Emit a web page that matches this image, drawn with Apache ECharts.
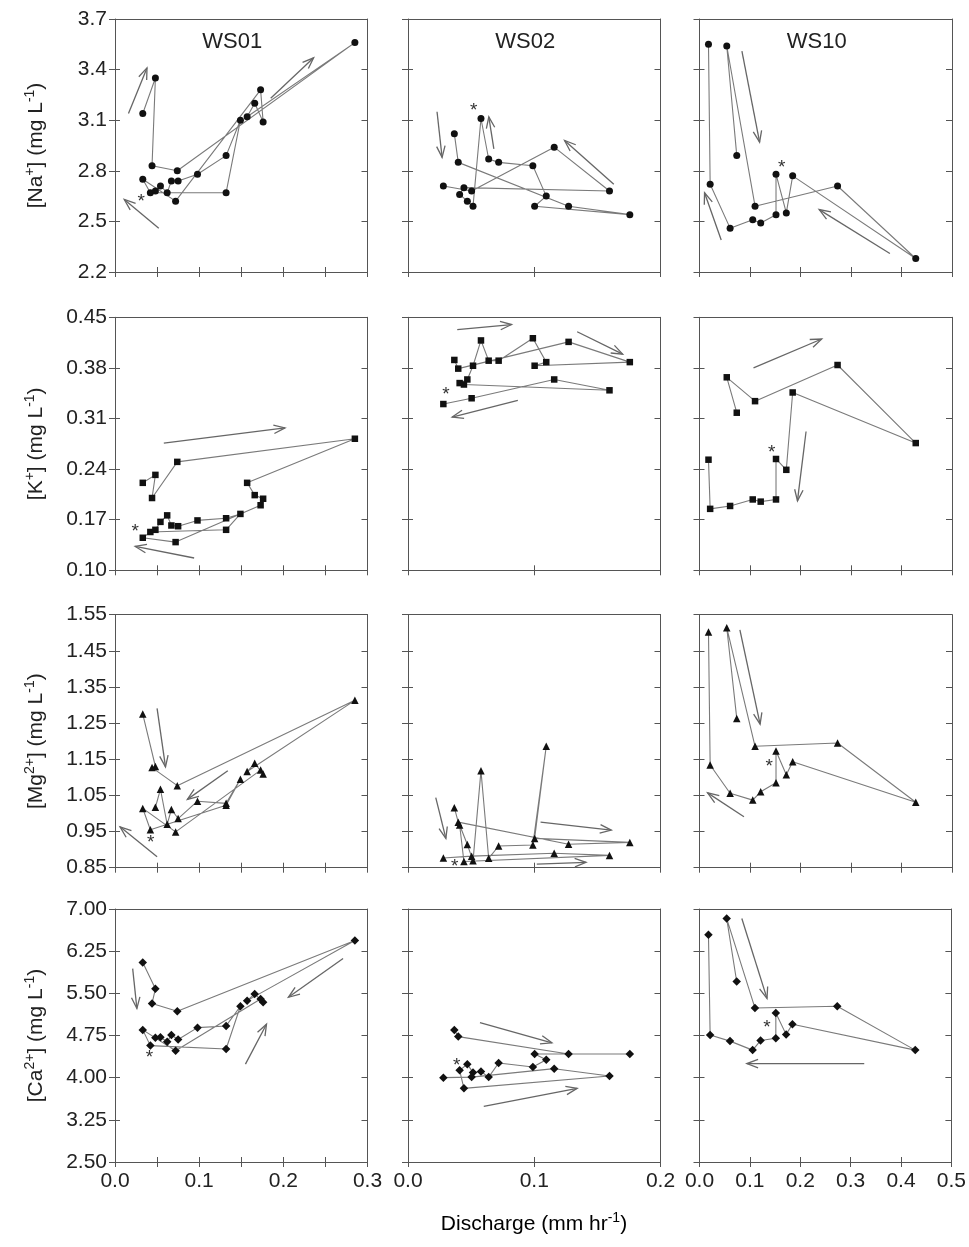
<!DOCTYPE html>
<html><head><meta charset="utf-8">
<script src="https://cdn.jsdelivr.net/npm/echarts@6/dist/echarts.min.js"></script>
<style>html,body{margin:0;padding:0;background:#fff}#c{width:969px;height:1247px}</style>
</head><body><div id="c"></div>
<script>
// ---------------- DATA ----------------
const siteNames = ['WS01', 'WS02', 'WS10'];
// discharge (mm/hr), samples in time order
const ws01Q = [0.033, 0.048, 0.044, 0.074, 0.285, 0.157, 0.166, 0.176, 0.173, 0.072, 0.033, 0.042, 0.132, 0.149, 0.132, 0.098, 0.075, 0.067, 0.062, 0.054, 0.048];
const ws02Q = [0.0367, 0.0398, 0.1272, 0.1757, 0.1003, 0.1095, 0.0989, 0.0718, 0.0639, 0.0578, 0.0515, 0.0470, 0.0409, 0.0443, 0.1596, 0.1158, 0.0504, 0.0280];
const ws10Q = [0.0738, 0.0540, 0.1100, 0.2734, 0.4282, 0.1845, 0.1719, 0.1515, 0.1515, 0.1212, 0.1054, 0.0606, 0.0211, 0.0178];

const ws01Na = [3.14, 3.35, 2.83, 2.80, 3.56, 3.12, 3.20, 3.09, 3.28, 2.62, 2.75, 2.67, 2.67, 3.10, 2.89, 2.78, 2.74, 2.74, 2.67, 2.71, 2.68];
const ws02Na = [3.02, 2.85, 2.59, 2.54, 2.59, 2.65, 2.83, 2.85, 2.87, 3.11, 2.59, 2.62, 2.66, 2.70, 2.68, 2.94, 2.68, 2.71];
const ws10Na = [2.89, 3.54, 2.59, 2.71, 2.28, 2.77, 2.55, 2.78, 2.54, 2.49, 2.51, 2.46, 2.72, 3.55];

const ws01K = [0.221, 0.232, 0.200, 0.250, 0.282, 0.221, 0.204, 0.199, 0.190, 0.139, 0.145, 0.153, 0.156, 0.178, 0.172, 0.169, 0.161, 0.162, 0.176, 0.167, 0.156];
const ws02K = [0.391, 0.379, 0.416, 0.388, 0.383, 0.388, 0.421, 0.390, 0.390, 0.418, 0.383, 0.364, 0.359, 0.357, 0.349, 0.364, 0.338, 0.330];
const ws10K = [0.318, 0.367, 0.334, 0.384, 0.276, 0.346, 0.239, 0.254, 0.198, 0.195, 0.198, 0.189, 0.185, 0.253];

const ws01Mg = [1.275, 1.130, 1.127, 1.077, 1.313, 1.116, 1.139, 1.109, 1.120, 0.949, 1.014, 0.955, 1.023, 1.095, 1.028, 1.034, 0.986, 1.011, 0.970, 1.067, 1.017];
const ws02Mg = [1.016, 0.976, 0.915, 0.920, 0.931, 1.186, 0.913, 0.910, 0.876, 1.118, 0.869, 0.914, 0.968, 0.867, 0.884, 0.890, 0.882, 0.877];
const ws10Mg = [1.263, 1.514, 1.186, 1.195, 1.031, 1.143, 1.107, 1.173, 1.085, 1.060, 1.037, 1.056, 1.134, 1.502];

const ws01Ca = [6.05, 5.58, 5.32, 5.18, 6.44, 5.37, 5.49, 5.34, 5.40, 4.48, 4.85, 4.57, 4.51, 5.27, 4.92, 4.89, 4.68, 4.76, 4.64, 4.72, 4.71];
const ws02Ca = [4.85, 4.73, 4.42, 4.42, 4.42, 4.32, 4.19, 4.26, 4.01, 4.11, 4.09, 4.24, 4.13, 3.81, 4.03, 4.16, 4.01, 4.00];
const ws10Ca = [5.71, 6.83, 5.24, 5.27, 4.49, 4.95, 4.77, 5.15, 4.70, 4.66, 4.49, 4.65, 4.76, 6.54];

// direction arrows [x1, y1, x2(head), y2(head)] and asterisk positions
const ws01NaArrows = [[0.016, 3.14, 0.038, 3.41], [0.052, 2.46, 0.011, 2.63], [0.185, 3.23, 0.236, 3.47]];
const ws02NaArrows = [[0.023, 3.15, 0.027, 2.88], [0.068, 2.93, 0.064, 3.12], [0.163, 2.72, 0.124, 2.98]];
const ws10NaArrows = [[0.084, 3.51, 0.119, 2.97], [0.377, 2.31, 0.237, 2.57], [0.043, 2.39, 0.010, 2.67]];
const ws01KArrows = [[0.058, 0.276, 0.202, 0.297], [0.094, 0.117, 0.024, 0.133]];
const ws02KArrows = [[0.039, 0.433, 0.082, 0.440], [0.134, 0.430, 0.170, 0.399], [0.087, 0.335, 0.035, 0.312]];
const ws10KArrows = [[0.107, 0.380, 0.242, 0.420], [0.211, 0.292, 0.194, 0.196]];
const ws01MgArrows = [[0.050, 1.291, 0.060, 1.129], [0.134, 1.118, 0.086, 1.039], [0.050, 0.880, 0.006, 0.963]];
const ws02MgArrows = [[0.022, 1.044, 0.030, 0.931], [0.105, 0.976, 0.161, 0.954], [0.102, 0.860, 0.141, 0.865]];
const ws10MgArrows = [[0.080, 1.508, 0.120, 1.247], [0.088, 0.991, 0.016, 1.057]];
const ws01CaArrows = [[0.021, 5.94, 0.026, 5.23], [0.271, 6.12, 0.206, 5.43], [0.155, 4.24, 0.180, 4.95]];
const ws02CaArrows = [[0.057, 4.98, 0.114, 4.62], [0.060, 3.49, 0.134, 3.81]];
const ws10CaArrows = [[0.084, 6.83, 0.134, 5.41], [0.327, 4.25, 0.094, 4.25]];

const ws01NaStar = [0.031, 2.64], ws02NaStar = [0.052, 3.18], ws10NaStar = [0.163, 2.84];
const ws01KStar = [0.024, 0.159], ws02KStar = [0.030, 0.348], ws10KStar = [0.143, 0.268];
const ws01MgStar = [0.0425, 0.929], ws02MgStar = [0.037, 0.865], ws10MgStar = [0.138, 1.141];
const ws01CaStar = [0.041, 4.42], ws02CaStar = [0.0385, 4.28], ws10CaStar = [0.134, 4.95];

// axis ticks
const xTicks = [[0, 0.3, 0.05], [0, 0.2, 0.1], [0, 0.5, 0.1]];           // min, max, interval
const yTicks = [[2.2, 3.7, 0.3, 1], [0.10, 0.45, 0.07, 2], [0.85, 1.55, 0.10, 2], [2.50, 7.00, 0.75, 2]]; // min,max,interval,decimals
const yNames = [
  '{n|[Na}{s|+}{n|] (mg L}{s|-1}{n|)}',
  '{n|[K}{s|+}{n|] (mg L}{s|-1}{n|)}',
  '{n|[Mg}{s|2+}{n|] (mg L}{s|-1}{n|)}',
  '{n|[Ca}{s|2+}{n|] (mg L}{s|-1}{n|)}'
];
const xName = '{n|Discharge (mm hr}{s|-1}{n|)}';

// ---------------- LAYOUT / STYLE ----------------
const FONT = '"Liberation Sans", Arial, sans-serif';
const colX = [115, 408, 699.5], colW = 252.5;
const rowY = [19, 317.3, 614.7, 909], rowH = 253;
const AX = '#555', TXT = '#222';
const symbols = [['circle', 7], ['rect', 6.5], ['triangle', 7.5], ['diamond', 8.5]];
const rich = {
  n: {fontSize: 21, fontFamily: FONT, color: TXT, lineHeight: 26},
  s: {fontSize: 14, fontFamily: FONT, color: TXT, lineHeight: 14, verticalAlign: 'top'}
};

const Q = [ws01Q, ws02Q, ws10Q];
const conc = [[ws01Na, ws02Na, ws10Na], [ws01K, ws02K, ws10K], [ws01Mg, ws02Mg, ws10Mg], [ws01Ca, ws02Ca, ws10Ca]];
const arrows = [[ws01NaArrows, ws02NaArrows, ws10NaArrows], [ws01KArrows, ws02KArrows, ws10KArrows],
                [ws01MgArrows, ws02MgArrows, ws10MgArrows], [ws01CaArrows, ws02CaArrows, ws10CaArrows]];
const stars = [[ws01NaStar, ws02NaStar, ws10NaStar], [ws01KStar, ws02KStar, ws10KStar],
               [ws01MgStar, ws02MgStar, ws10MgStar], [ws01CaStar, ws02CaStar, ws10CaStar]];

const grid = [], xAxis = [], yAxis = [], series = [], graphic = [];

function xFmt(v) {
  const t = v * 10;
  return Math.abs(t - Math.round(t)) < 1e-6 ? v.toFixed(1) : '';
}

for (let r = 0; r < 4; r++) {
  for (let c = 0; c < 3; c++) {
    const gi = grid.length;
    grid.push({left: colX[c], top: rowY[r], width: colW, height: rowH, containLabel: false});
    const [xmin, xmax, xint] = xTicks[c];
    const [ymin, ymax, yint, dec] = yTicks[r];
    const line = {show: true, onZero: false, lineStyle: {color: AX, width: 1}};
    const xi = xAxis.length, yi = yAxis.length;
    // bottom axis: outward ticks + labels
    xAxis.push({gridIndex: gi, type: 'value', position: 'bottom', min: xmin, max: xmax, interval: xint,
      axisLine: line, splitLine: {show: false},
      axisTick: {show: true, length: 5, lineStyle: {color: AX}},
      axisLabel: {show: r === 3, formatter: xFmt, fontSize: 21, fontFamily: FONT, color: TXT, margin: 9}});
    // bottom axis: inward ticks
    xAxis.push({gridIndex: gi, type: 'value', position: 'bottom', min: xmin, max: xmax, interval: xint,
      axisLine: {show: false}, splitLine: {show: false},
      axisTick: {show: true, inside: true, length: 5, lineStyle: {color: AX}}, axisLabel: {show: false}});
    // top frame
    xAxis.push({gridIndex: gi, type: 'value', position: 'top', min: xmin, max: xmax, interval: xint,
      axisLine: line, splitLine: {show: false}, axisTick: {show: false}, axisLabel: {show: false}});
    // left axis: outward ticks (+labels & name in first column)
    yAxis.push({gridIndex: gi, type: 'value', position: 'left', min: ymin, max: ymax, interval: yint,
      axisLine: line, splitLine: {show: false},
      axisTick: {show: true, length: 6, lineStyle: {color: AX}},
      axisLabel: {show: c === 0, formatter: v => v.toFixed(dec), fontSize: 21, fontFamily: FONT, color: TXT, margin: 8},
      name: c === 0 ? yNames[r] : '', nameLocation: 'middle', nameRotate: 90, nameGap: 66,
      nameTextStyle: {rich: rich}});
    // left axis: inward ticks
    yAxis.push({gridIndex: gi, type: 'value', position: 'left', min: ymin, max: ymax, interval: yint,
      axisLine: {show: false}, splitLine: {show: false},
      axisTick: {show: true, inside: true, length: 5, lineStyle: {color: AX}}, axisLabel: {show: false}});
    // right frame with inward ticks
    yAxis.push({gridIndex: gi, type: 'value', position: 'right', min: ymin, max: ymax, interval: yint,
      axisLine: line, splitLine: {show: false},
      axisTick: {show: true, inside: true, length: 6, lineStyle: {color: AX}}, axisLabel: {show: false}});

    const q = Q[c], y = conc[r][c];
    series.push({type: 'line', xAxisIndex: xi, yAxisIndex: yi, animation: false,
      data: q.map((v, k) => [v, y[k]]),
      symbol: symbols[r][0], symbolSize: symbols[r][1], showSymbol: true,
      itemStyle: {color: '#111', borderWidth: 0},
      lineStyle: {color: '#7a7a7a', width: 1.1}, z: 3});
    series.push({type: 'custom', xAxisIndex: xi, yAxisIndex: yi, animation: false,
      data: arrows[r][c], encode: {x: [0, 2], y: [1, 3]}, z: 2,
      renderItem: function (params, api) {
        const p1 = api.coord([api.value(0), api.value(1)]);
        const p2 = api.coord([api.value(2), api.value(3)]);
        const ang = Math.atan2(p2[1] - p1[1], p2[0] - p1[0]);
        const L = 12, a = 0.36;
        const h1 = [p2[0] - L * Math.cos(ang - a), p2[1] - L * Math.sin(ang - a)];
        const h2 = [p2[0] - L * Math.cos(ang + a), p2[1] - L * Math.sin(ang + a)];
        const st = {stroke: '#666', lineWidth: 1.3, fill: null};
        return {type: 'group', children: [
          {type: 'line', shape: {x1: p1[0], y1: p1[1], x2: p2[0], y2: p2[1]}, style: st},
          {type: 'polyline', shape: {points: [h1, p2, h2]}, style: st}
        ]};
      }});
    series.push({type: 'custom', xAxisIndex: xi, yAxisIndex: yi, animation: false,
      data: [stars[r][c]], encode: {x: 0, y: 1}, z: 4,
      renderItem: function (params, api) {
        const p = api.coord([api.value(0), api.value(1)]);
        return {type: 'text', x: p[0], y: p[1] + 4,
          style: {text: '*', fontSize: 19, fontFamily: FONT, fill: '#333', align: 'center', verticalAlign: 'middle'}};
      }});
  }
}

// panel titles
for (let c = 0; c < 3; c++) {
  graphic.push({type: 'text', x: colX[c] + colW / 2 - 9, y: 42,
    style: {text: siteNames[c], fontSize: 22, fontFamily: FONT, fill: TXT, align: 'center', verticalAlign: 'middle'}});
}
graphic.push({type: 'text', x: 534, y: 1224,
  style: {text: xName, rich: rich, align: 'center', verticalAlign: 'middle'}});

const chart = echarts.init(document.getElementById('c'), null, {renderer: 'canvas'});
chart.setOption({animation: false, backgroundColor: '#fff', grid, xAxis, yAxis, series, graphic});
</script>
</body></html>
